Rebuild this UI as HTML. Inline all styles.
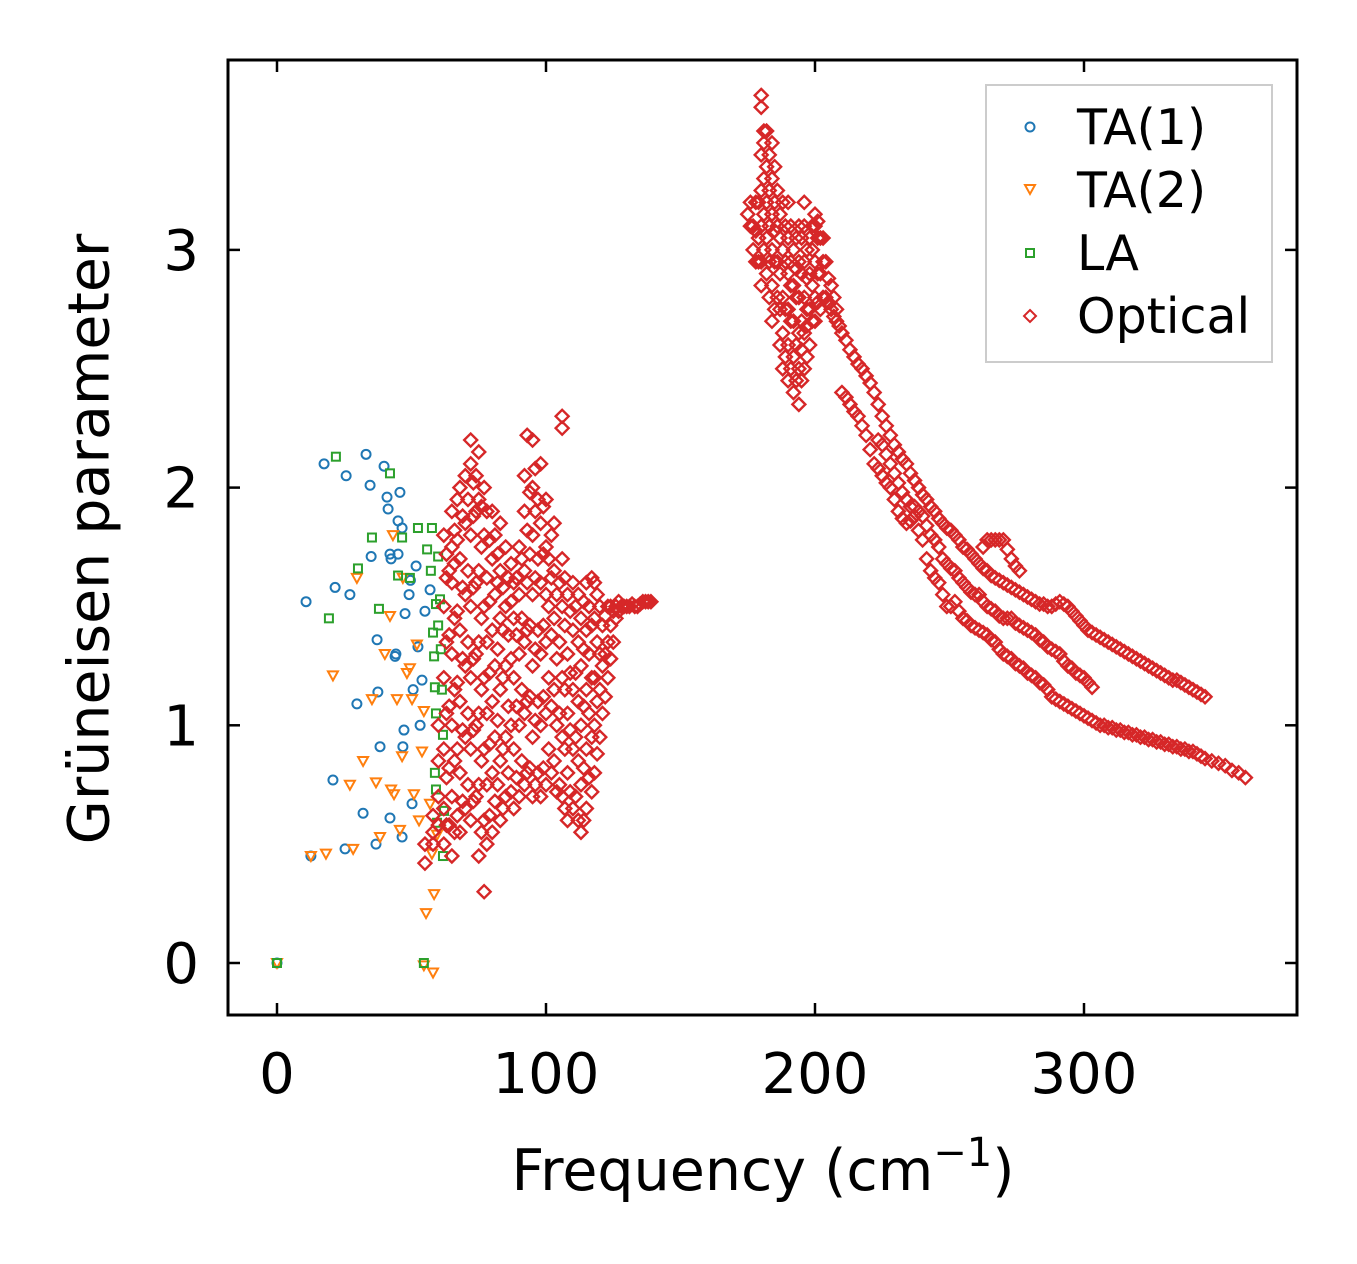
<!DOCTYPE html>
<html><head><meta charset="utf-8"><style>
html,body{margin:0;padding:0;background:#fff;}
svg{display:block;font-family:"DejaVu Sans","Liberation Sans",sans-serif;}
</style></head><body>
<svg id="chart" width="1357" height="1264" viewBox="0 0 1357 1264" xmlns="http://www.w3.org/2000/svg">
<rect x="0" y="0" width="1357" height="1264" fill="#fff"/>
<g id="marks"></g>
<g id="axes"></g>
<text x="93" y="539" font-size="57" text-anchor="middle" transform="rotate(-90 93 539)" dominant-baseline="middle">Grüneisen parameter</text>
<text x="763" y="1190" font-size="57" text-anchor="middle">Frequency (cm<tspan dy="-24" font-size="40">−1</tspan><tspan dy="24">)</tspan></text>
<g>
<rect x="986" y="85" width="286" height="277" fill="#fff" fill-opacity="0.8" stroke="#ccc" stroke-width="2"/>
<circle cx="1030" cy="127" r="4.5" fill="none" stroke="#1f77b4" stroke-width="2"/>
<text x="1077" y="144" font-size="49">TA(1)</text>
<path d="M1025,185 L1035,185 L1030,194 Z" fill="none" stroke="#ff7f0e" stroke-width="2"/>
<text x="1077" y="207" font-size="49">TA(2)</text>
<rect x="1026" y="249" width="8" height="8" fill="none" stroke="#2ca02c" stroke-width="2"/>
<text x="1077" y="270" font-size="49">LA</text>
<path d="M1030,310 L1036,316 L1030,322 L1024,316 Z" fill="none" stroke="#d62728" stroke-width="2"/>
<text x="1077" y="333" font-size="49">Optical</text>
</g>
<script>
const xTicks = [0, 100, 200, 300];
const yTicks = [0, 1, 2, 3];
const ta1X = [0,10.8,12.6,17.5,20.8,21.6,25.7,25.3,27.1,29.7,32,33.1,34.6,35,36.8,37.2,37.5,38.3,39.8,40.9,41.3,42,42.4,42,43.9,44.2,45,45,45.7,46.5,46.8,47.2,47.6,49.1,49.6,50.6,50.2,51.7,52.4,53.2,53.9,55,56.9,46.5];
const ta1Y = [0,1.52,0.45,2.10,0.77,1.58,2.05,0.48,1.55,1.09,0.63,2.14,2.01,1.71,0.50,1.36,1.14,0.91,2.09,1.96,1.91,1.72,1.70,0.61,1.29,1.30,1.72,1.86,1.98,0.53,0.91,0.98,1.47,1.55,1.61,1.15,0.67,1.67,1.33,1.0,1.19,1.48,1.57,1.83];
const ta2X = [0,12.6,18.2,20.8,27.1,28.3,29.7,32,35.3,36.8,38.3,40.1,42,42.4,43.5,43.1,44.6,45.7,46.5,48.3,49.4,50.2,50.9,52,52.8,53.9,54.6,55.4,56.9,57.6,58.4,58,59.5,54.6,46.8];
const ta2Y = [0,0.45,0.46,1.21,0.75,0.48,1.62,0.85,1.11,0.76,0.53,1.30,1.46,0.73,0.71,1.80,1.11,0.56,0.87,1.22,1.24,1.11,0.71,1.34,0.60,0.89,1.06,0.21,0.67,0.46,0.29,-0.04,0.54,-0.01,1.62];
const laX = [0,19.3,21.9,30.1,35.3,37.9,42,45,46.5,49.4,52.4,54.6,55.8,57.2,57.6,58,58.4,58.7,59.1,58.7,59.1,59.5,59.9,60.6,60.9,61.3,61.7,62.1,61.7,59.1,59.9];
const laY = [0,1.45,2.13,1.66,1.79,1.49,2.06,1.63,1.79,1.62,1.83,0,1.74,1.65,1.83,1.39,1.29,1.16,1.05,0.80,0.73,0.59,1.71,1.53,1.32,1.15,0.96,0.64,0.45,1.51,1.42];
const opticalCols = [
[55,[0.42,0.5]],[58,[0.5,0.55,0.62]],[60,[0.58,0.7,0.85,1.0]],
[62,[0.5,0.65,0.9,1.2,1.5,1.8]],[63,[0.58,0.78,1.05,1.35,1.62,1.72]],[64,[0.58,0.82,1.08,1.38,1.65]],[65,[0.45,0.7,1.0,1.3,1.6,1.75,1.9]],
[66,[0.55,0.85,1.15,1.45,1.68,1.82]],[67,[0.62,0.9,1.18,1.48,1.78,1.95]],[68,[0.55,0.8,1.1,1.4,1.7,2.0]],[69,[0.68,0.98,1.28,1.58,1.88]],[70,[0.65,0.95,1.25,1.55,1.85,2.05]],
[71,[0.75,1.05,1.35,1.65,1.95]],[72,[0.6,0.9,1.2,1.5,1.8,2.1,2.2]],[73,[0.68,0.98,1.28,1.58,1.88,2.02]],[74,[0.7,1.0,1.3,1.6,1.9,2.05]],
[75,[0.45,0.75,1.05,1.35,1.65,1.95,2.15]],[76,[0.55,0.85,1.15,1.45,1.75,1.92]],[77,[0.3,0.6,0.9,1.2,1.5,1.8,2.0]],[78,[0.5,0.75,1.05,1.35,1.62,1.9]],
[79,[0.62,0.92,1.22,1.52,1.78]],[80,[0.55,0.8,1.1,1.4,1.7,1.9]],[81,[0.68,0.95,1.25,1.55,1.8]],[82,[0.75,1.02,1.32,1.6,1.72]],[83,[0.6,0.85,1.15,1.45,1.65,1.85]],
[84,[0.65,0.9,1.2,1.4,1.58]],[85,[0.7,0.95,1.25,1.5,1.75]],[86,[0.8,1.08,1.38,1.62]],[87,[0.72,1.0,1.28,1.52,1.68]],[88,[0.65,0.9,1.2,1.45,1.6]],
[89,[0.78,1.08,1.38,1.62]],[90,[0.7,1.0,1.3,1.55,1.75]],[91,[0.85,1.15,1.45,1.7]],[92,[0.75,1.05,1.35,1.65,1.9,2.05]],[93,[0.8,1.1,1.4,1.6,1.82,2.22]],
[94,[0.82,1.12,1.42,1.72,1.98]],[95,[0.7,0.95,1.25,1.55,1.8,2.0,2.2]],[96,[0.75,1.02,1.32,1.62,1.9,2.08]],[97,[0.8,1.1,1.4,1.7,1.95]],
[98,[0.7,1.0,1.3,1.6,1.85,2.1]],[99,[0.82,1.12,1.42,1.72,1.92]],[100,[0.75,1.05,1.35,1.55,1.75,1.95]],[101,[0.9,1.2,1.5,1.7]],[102,[0.8,1.08,1.38,1.62,1.8]],
[103,[0.85,1.15,1.45,1.65,1.85]],[104,[0.72,1.0,1.28,1.55]],[105,[0.75,1.05,1.35,1.6]],[106,[0.7,0.95,1.2,1.5,1.7,2.25,2.3]],[107,[0.65,0.9,1.15,1.42,1.62]],
[108,[0.6,0.8,1.05,1.3,1.55]],[109,[0.72,0.98,1.22,1.48]],[110,[0.65,0.9,1.15,1.4,1.6]],[111,[0.7,0.95,1.22,1.5]],
[112,[0.6,0.85,1.1,1.35,1.55]],[113,[0.55,0.75,1.0,1.25,1.45]],[114,[0.6,0.82,1.08,1.32,1.52]],[115,[0.65,0.9,1.15,1.4,1.6]],
[116,[0.78,1.05,1.3,1.5]],[117,[0.72,0.95,1.2,1.42,1.62]],[118,[0.8,1.0,1.2,1.45,1.6]],[119,[0.88,1.1,1.35,1.55]],[120,[0.95,1.15,1.3,1.5]],[121,[1.05,1.25,1.42]],
[122,[1.12,1.3,1.46]],[123,[1.2,1.35,1.5]],[124,[1.28,1.42,1.5]],[125,[1.35,1.48]],[126,[1.45,1.5]],[127,[1.48,1.52]],[128,[1.5]],[129,[1.5]],[130,[1.5]],[131,[1.5]],[132,[1.51]],[133,[1.5]],[134,[1.5]],[135,[1.51]],[136,[1.52]],[137,[1.52]],[138,[1.52]],[139,[1.52]],
[175,[3.15]],[176,[3.1,3.2]],[177,[3.0,3.1]],[178,[2.95,3.08,3.2]],[179,[2.95,3.05,3.2]],[180,[2.85,2.95,3.1,3.25,3.4,3.6,3.65]],[181,[3.0,3.15,3.3,3.45,3.5]],
[182,[2.9,3.05,3.2,3.35,3.5]],[183,[2.8,2.95,3.1,3.25,3.4]],[184,[2.7,2.85,3.0,3.15,3.3,3.45]],[185,[2.75,2.95,3.08,3.2,3.35]],
[186,[2.8,2.95,3.1,3.25]],[187,[2.6,2.75,2.9,3.05,3.15]],[188,[2.5,2.65,2.8,3.0,3.2]],[189,[2.55,2.75,2.95,3.1]],
[190,[2.45,2.6,2.75,2.9,3.05,3.2]],[191,[2.5,2.7,2.85,2.95,3.1]],[192,[2.4,2.55,2.7,2.85,3.0]],[193,[2.45,2.6,2.8,2.92,3.05]],
[194,[2.35,2.5,2.65,2.8,2.95,3.1]],[195,[2.45,2.58,2.7,2.9,3.05]],[196,[2.5,2.65,2.8,2.95,3.1,3.2]],[197,[2.55,2.68,2.75,2.88,3.0]],
[198,[2.6,2.75,2.9,3.05]],[199,[2.7,2.85,3.0,3.1]],[200,[2.7,2.8,2.95,3.1,3.15]],[201,[2.78,2.9,3.05,3.12]],
[202,[2.75,2.9,3.05]],[203,[2.8,2.95,3.05]],[204,[2.8,2.95]],[205,[2.78,2.88]],[206,[2.75,2.85]],[207,[2.72,2.8]],[208,[2.7,2.75]],[209,[2.68]],
[210,[2.65,2.4]],[211.5,[2.62,2.38]],[213,[2.58,2.35]],[214.5,[2.55,2.32]],[216,[2.52,2.3]],[217.5,[2.5,2.26]],[219,[2.47,2.22]],[220.5,[2.44,2.16]],[222,[2.4,2.1]],[223.5,[2.35,2.08,2.2]],[225,[2.3,2.05,2.18]],
[226.5,[2.26,2.02,2.14]],[228,[2.22,2.0,2.1]],[229.5,[2.18,1.95,2.06]],[231,[2.15,1.9,2.02]],[232.5,[2.12,1.87,1.98]],[234,[2.1,1.85,1.95]],[235.5,[2.06,1.86,1.92]],[237,[2.03,1.88,1.92]],[238.5,[2.0,1.82,1.9]],[240,[1.97,1.78,1.88]],
[241.5,[1.95,1.7,1.84]],[243,[1.92,1.65,1.8]],[244.5,[1.9,1.62,1.78]],[246,[1.87,1.6,1.75]],[247.5,[1.85,1.55,1.7]],[249,[1.83,1.5,1.68]],[250.5,[1.82,1.5,1.66]],[252,[1.8,1.52,1.65]],[253.5,[1.78,1.48,1.62]],[255,[1.75,1.45,1.6]],
[256.5,[1.74,1.44,1.58]],[258,[1.72,1.42,1.56]],[259.5,[1.7,1.41,1.55]],[261,[1.68,1.4,1.55]],[262.5,[1.66,1.39,1.52,1.75]],[264,[1.65,1.38,1.5,1.78]],[265.5,[1.63,1.36,1.49,1.78]],[267,[1.62,1.35,1.48,1.78]],
[268.5,[1.61,1.32,1.46,1.78]],[270,[1.6,1.3,1.45,1.78]],[271.5,[1.59,1.29,1.45,1.74]],[273,[1.58,1.28,1.45,1.7]],[274.5,[1.57,1.26,1.43,1.67]],[276,[1.56,1.25,1.42,1.65]],[277.5,[1.55,1.24,1.41]],[279,[1.54,1.22,1.4]],
[280.5,[1.53,1.21,1.39]],[282,[1.52,1.2,1.38]],[283.5,[1.51,1.18,1.36]],[285,[1.51,1.17,1.35]],[286.5,[1.5,1.15,1.33]],[288,[1.5,1.12,1.32]],[289.5,[1.51,1.11,1.31]],[291,[1.52,1.1,1.3]],[292.5,[1.51,1.09,1.27]],[294,[1.5,1.08,1.25]],
[295.5,[1.48,1.07,1.24]],[297,[1.46,1.06,1.22]],[298.5,[1.44,1.05,1.21]],[300,[1.42,1.04,1.2]],[301.5,[1.4,1.03,1.18]],[303,[1.39,1.02,1.16]],[304.5,[1.38,1.01]],[306,[1.37,1.0]],[307.5,[1.36,1.0]],[309,[1.35,0.99]],
[310.5,[1.34,0.99]],[312,[1.33,0.98]],[313.5,[1.32,0.98]],[315,[1.31,0.97]],[316.5,[1.3,0.97]],[318,[1.29,0.96]],[319.5,[1.28,0.96]],[321,[1.27,0.95]],[322.5,[1.26,0.95]],[324,[1.25,0.94]],[325.5,[1.24,0.94]],[327,[1.23,0.93]],
[328.5,[1.22,0.93]],[330,[1.21,0.92]],[331.5,[1.2,0.92]],[333,[1.19,0.91]],[334.5,[1.19,0.91]],[336,[1.18,0.9]],[337.5,[1.17,0.9]],[339,[1.16,0.89]],[340.5,[1.15,0.89]],[342,[1.14,0.88]],[343.5,[1.13,0.87]],[345,[1.12,0.86]],
[347.5,[0.85]],[350,[0.84]],[352.5,[0.83]],[355,[0.81]],[357.5,[0.8]],[360,[0.78]]
];
const NS = 'http://www.w3.org/2000/svg';
const X0 = 277, XS = 2.69, Y0 = 963, YS = 237.7;
function xPix(v){ return X0 + v * XS; }
function yPix(v){ return Y0 - v * YS; }
const marks = document.getElementById('marks');
const axes = document.getElementById('axes');
function drawSeries(xs, ys, kind, color, name){
  for (let i = 0; i < xs.length; i++){
    const cx = xPix(xs[i]), cy = yPix(ys[i]);
    let el;
    if (kind === 'circle'){
      el = document.createElementNS(NS, 'circle');
      el.setAttribute('cx', cx); el.setAttribute('cy', cy); el.setAttribute('r', 4.5);
    } else if (kind === 'tri'){
      el = document.createElementNS(NS, 'path');
      el.setAttribute('d', 'M'+(cx-5)+','+(cy-4)+' L'+(cx+5)+','+(cy-4)+' L'+cx+','+(cy+5)+' Z');
    } else if (kind === 'square'){
      el = document.createElementNS(NS, 'rect');
      el.setAttribute('x', cx-4); el.setAttribute('y', cy-4); el.setAttribute('width', 8); el.setAttribute('height', 8);
    } else {
      el = document.createElementNS(NS, 'path');
      el.setAttribute('d', 'M'+cx+','+(cy-6.5)+' L'+(cx+6.5)+','+cy+' L'+cx+','+(cy+6.5)+' L'+(cx-6.5)+','+cy+' Z');
    }
    el.setAttribute('fill', 'none');
    el.setAttribute('stroke', color);
    el.setAttribute('stroke-width', kind === 'diamond' ? 2.4 : 2);
    
    
    marks.appendChild(el);
  }
}
const optX = [], optY = [];
opticalCols.forEach(function(c){ c[1].forEach(function(y){ optX.push(c[0]); optY.push(y); }); });
drawSeries(ta1X, ta1Y, 'circle', '#1f77b4', 'ta1-point');
drawSeries(ta2X, ta2Y, 'tri', '#ff7f0e', 'ta2-point');
drawSeries(laX, laY, 'square', '#2ca02c', 'la-point');
drawSeries(optX, optY, 'diamond', '#d62728', 'optical-point');
const frame = document.createElementNS(NS, 'rect');
frame.setAttribute('x', 228); frame.setAttribute('y', 60); frame.setAttribute('width', 1069); frame.setAttribute('height', 955);
frame.setAttribute('fill', 'none'); frame.setAttribute('stroke', '#000'); frame.setAttribute('stroke-width', 3);


axes.appendChild(frame);
function line(x1,y1,x2,y2,name){
  const l = document.createElementNS(NS, 'line');
  l.setAttribute('x1', x1); l.setAttribute('y1', y1); l.setAttribute('x2', x2); l.setAttribute('y2', y2);
  l.setAttribute('stroke', '#000'); l.setAttribute('stroke-width', 2.5);
  
  
  axes.appendChild(l);
}
function label(x,y,txt,anchor,name){
  const t = document.createElementNS(NS, 'text');
  t.setAttribute('x', x); t.setAttribute('y', y); t.setAttribute('font-size', 56);
  t.setAttribute('text-anchor', anchor);
  t.textContent = txt;
  
  
  axes.appendChild(t);
}
xTicks.forEach(function(v){
  const px = xPix(v);
  line(px, 1015, px, 1003, 'x-tick');
  line(px, 60, px, 72, 'x-tick-top');
  label(px, 1093, String(v), 'middle', 'x-tick-label');
});
yTicks.forEach(function(v){
  const py = yPix(v);
  line(228, py, 240, py, 'y-tick');
  line(1297, py, 1285, py, 'y-tick-right');
  label(199, py + 20, String(v), 'end', 'y-tick-label');
});
</script>
</svg>
</body></html>
